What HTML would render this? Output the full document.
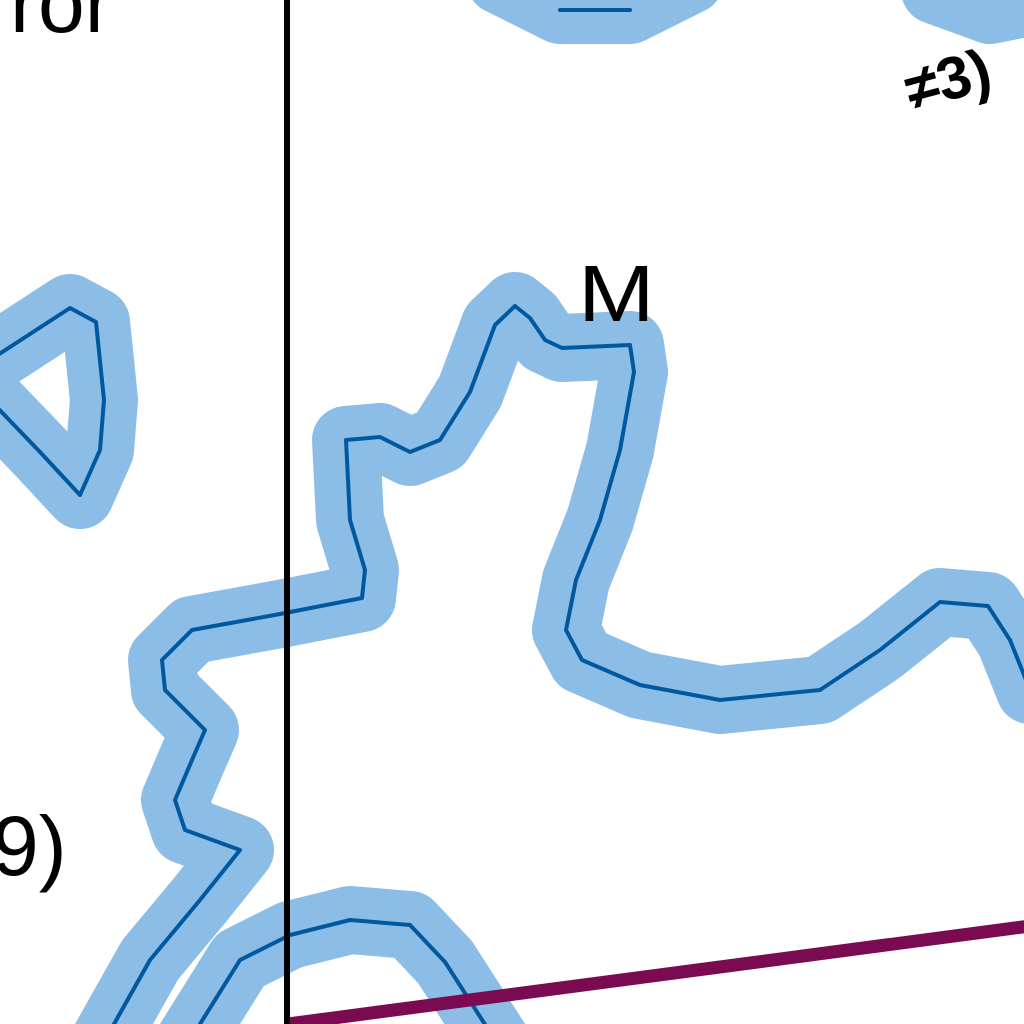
<!DOCTYPE html>
<html>
<head>
<meta charset="utf-8">
<style>
html,body{margin:0;padding:0;background:#fff;}
svg{display:block;}
text{font-family:"Liberation Sans",sans-serif;fill:#000;}
</style>
</head>
<body>
<svg width="1024" height="1024" viewBox="0 0 1024 1024">
  <rect width="1024" height="1024" fill="#fff"/>
  <g fill="none" stroke-linejoin="round" stroke-linecap="round">
    <g stroke="#8bbde6" stroke-width="68">
      <path d="M105,1040 L150,960 L200,900 L240,850 L185,830 L175,800 L192,760 L205,730 L165,690 L162,660 L192,630 L280,614 L362,598 L365,570 L350,520 L346,440 L380,437 L410,452 L440,440 L470,392 L495,325 L515,306 L530,318 L545,340 L562,348 L630,345 L634,372 L620,450 L600,520 L576,580 L566,630 L582,660 L640,685 L720,700 L820,690 L880,650 L940,602 L988,606 L1010,640 L1030,690"/>
      <path d="M-10,360 L70,308 L96,322 L104,400 L100,450 L80,495 L40,452 L-10,400"/>
      <path d="M190,1040 L240,960 L290,935 L350,920 L410,925 L445,962 L495,1040"/>
      <path d="M500,-20 L560,10 L630,10 L690,-20"/>
      <path d="M935,-10 L990,10 L1040,0"/>
    </g>
    <path d="M22,383 L50,366 L55,410 Z" fill="#fff" stroke="none"/>
    <g stroke="#0059a0" stroke-width="4">
      <path d="M105,1040 L150,960 L200,900 L240,850 L185,830 L175,800 L192,760 L205,730 L165,690 L162,660 L192,630 L280,614 L362,598 L365,570 L350,520 L346,440 L380,437 L410,452 L440,440 L470,392 L495,325 L515,306 L530,318 L545,340 L562,348 L630,345 L634,372 L620,450 L600,520 L576,580 L566,630 L582,660 L640,685 L720,700 L820,690 L880,650 L940,602 L988,606 L1010,640 L1030,690"/>
      <path d="M-10,360 L70,308 L96,322 L104,400 L100,450 L80,495 L40,452 L-10,400"/>
      <path d="M190,1040 L240,960 L290,935 L350,920 L410,925 L445,962 L495,1040"/>
      <path d="M560,10 L630,10"/>
    </g>
  </g>
  <line x1="288" y1="1024" x2="1030" y2="926" stroke="#7a0a52" stroke-width="13"/>
  <line x1="287" y1="-5" x2="287" y2="1030" stroke="#000" stroke-width="6"/>
  <text x="0" y="0" font-size="80" transform="translate(578 321) scale(1.15 1)">M</text>
  <text x="-8" y="875" font-size="84">9)</text>
  <text x="10" y="32" font-size="84">ror</text>
  <text x="910" y="100" font-size="60" font-weight="bold" transform="rotate(-15 950 100)">≠3)</text>
</svg>
</body>
</html>
